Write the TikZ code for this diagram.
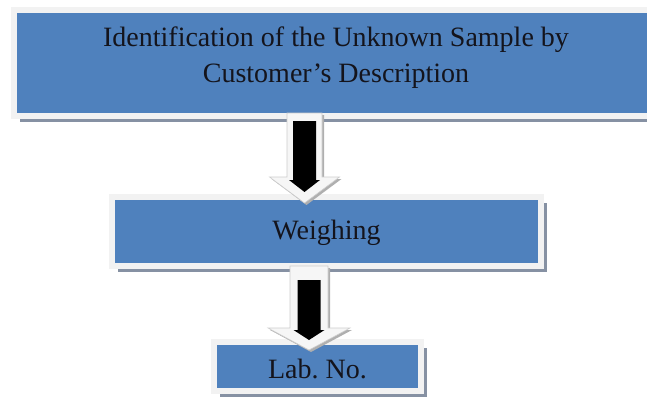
\documentclass[tikz,border=0pt]{standalone}
\usepackage{fontspec}
\setmainfont{Liberation Serif}
\usetikzlibrary{shadows,calc}
\definecolor{boxblue}{RGB}{79,129,189}
\definecolor{boxrim}{RGB}{242,242,242}
\definecolor{boxshade}{RGB}{134,145,163}
\definecolor{txt}{RGB}{20,20,28}
\definecolor{arrowfill}{RGB}{246,246,246}
\definecolor{arrowedge}{RGB}{205,205,205}
\definecolor{arrowshade}{RGB}{175,175,175}
\frenchspacing
\begin{document}
\begin{tikzpicture}[x=1pt,y=-1pt,
  flowbox/.style={rectangle, fill=boxblue, draw=boxrim, line width=6pt,
    inner sep=0pt, outer sep=0pt, font=\fontsize{28}{36}\selectfont,
    text=txt, align=center,
    drop shadow={shadow xshift=6pt, shadow yshift=-6pt, fill=boxshade, opacity=1}},
  arrowbody/.style={fill=arrowfill, draw=arrowedge, line width=0.6pt,
    preaction={fill=arrowshade, transform canvas={xshift=2pt, yshift=-2pt}}},
  arrowcore/.style={fill=black}]
\useasboundingbox (0,0) rectangle (647,396);

\node[flowbox, minimum width=644pt, minimum height=106pt, text depth=17pt] (top) at (336,63)
  {Identification of the Unknown Sample by\\Customer’s Description};
\node[flowbox, minimum width=429pt, minimum height=69pt, text height=22pt, text depth=7pt] (weigh) at (326.5,231.5) {Weighing};
\node[flowbox, minimum width=207pt, minimum height=49pt, text height=25pt, text depth=2pt] (lab) at (317.5,366.5) {Lab.\ No.};

\coordinate (ax1) at (304.5,0);
\coordinate (ax2) at (309,0);

% arrow 1
\path[arrowbody] ($(top.south -| ax1)+(-17.5,-3)$) -- ($(weigh.north -| ax1)+(-17.5,-20)$)
  -- ($(weigh.north -| ax1)+(-35,-20)$) -- ($(weigh.north -| ax1)+(0,6)$)
  -- ($(weigh.north -| ax1)+(35,-20)$) -- ($(weigh.north -| ax1)+(17.5,-20)$)
  -- ($(top.south -| ax1)+(17.5,-3)$) -- cycle;
\path[arrowcore] ($(top.south -| ax1)+(-11.5,5)$) -- ($(weigh.north -| ax1)+(-11.5,-17)$)
  -- ($(weigh.north -| ax1)+(-15.5,-17)$) -- ($(weigh.north -| ax1)+(0,-5)$)
  -- ($(weigh.north -| ax1)+(15.5,-17)$) -- ($(weigh.north -| ax1)+(11.5,-17)$)
  -- ($(top.south -| ax1)+(11.5,5)$) -- cycle;

% arrow 2
\path[arrowbody] ($(weigh.south -| ax2)+(-19,0)$) -- ($(lab.north -| ax2)+(-19,-14)$)
  -- ($(lab.north -| ax2)+(-41,-14)$) -- ($(lab.north -| ax2)+(0,8)$)
  -- ($(lab.north -| ax2)+(41,-14)$) -- ($(lab.north -| ax2)+(19,-14)$)
  -- ($(weigh.south -| ax2)+(19,0)$) -- cycle;
\path[arrowcore] ($(weigh.south -| ax2)+(-11.5,14)$) -- ($(lab.north -| ax2)+(-11.5,-12)$)
  -- ($(lab.north -| ax2)+(-15.5,-12)$) -- ($(lab.north -| ax2)+(0,-2)$)
  -- ($(lab.north -| ax2)+(15.5,-12)$) -- ($(lab.north -| ax2)+(11.5,-12)$)
  -- ($(weigh.south -| ax2)+(11.5,14)$) -- cycle;
\end{tikzpicture}
\end{document}
